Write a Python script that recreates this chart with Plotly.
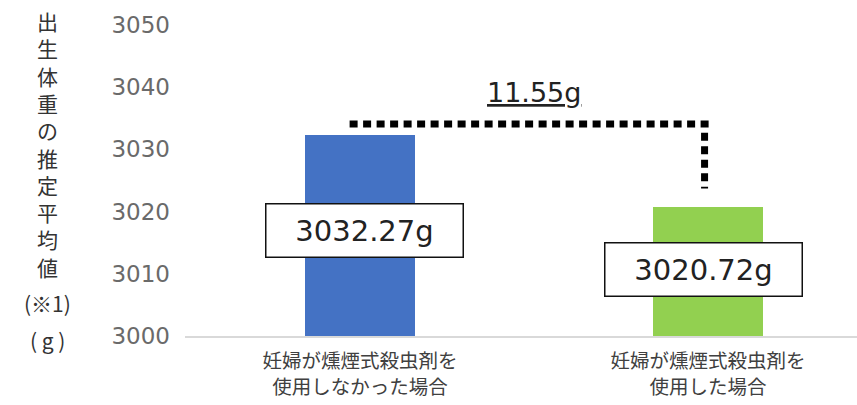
import plotly.graph_objects as go

categories = ["妊婦が燻煙式殺虫剤を<br>使用しなかった場合", "妊婦が燻煙式殺虫剤を<br>使用した場合"]
values = [3032.27, 3020.72]
colors = ["#4472C4", "#92D050"]
y_ticks = [3000, 3010, 3020, 3030, 3040, 3050]
y_title_chars = list("出生体重の推定平均値")

xpos = list(range(len(categories)))
fig = go.Figure()
fig.add_trace(go.Bar(
    x=xpos, y=values, width=0.316, marker=dict(color=colors, line=dict(width=0)),
    hoverinfo="skip", showlegend=False,
))

# value label boxes (offset below bar top)
label_offsets = [-15.3, -10.0]
for i, v in enumerate(values):
    fig.add_annotation(
        x=xpos[i] + 0.012 * (1 - 2 * i), y=v + label_offsets[i], xref="x", yref="y",
        text=f"{v:.2f}g", showarrow=False,
        font=dict(family="DejaVu Sans", size=29, color="#222222"),
        bgcolor="white", bordercolor="#111111", borderwidth=1.5, borderpad=0,
        width=196, height=52, align="center", valign="middle",
    )

# difference bracket
diff = values[0] - values[1]
bracket_y = values[0] + 1.8
x_left = xpos[0] - 0.03
x_right = xpos[1] - 0.01
dot = dict(color="black", width=7, dash="8px,5.5px")
fig.add_shape(type="line", xref="x", yref="y", x0=x_left, x1=x_right + 0.012,
              y0=bracket_y, y1=bracket_y, line=dot)
fig.add_shape(type="line", xref="x", yref="y", x0=x_right, x1=x_right,
              y0=bracket_y - 1.4, y1=values[1] + 3.0, line=dot)
fig.add_annotation(
    x=(x_left + x_right) / 2 + 0.02, y=bracket_y + 5.0, xref="x", yref="y",
    text=f"<u>{diff:.2f}g</u>", showarrow=False,
    font=dict(family="DejaVu Sans", size=27, color="#222222"),
)

# vertical y-axis title
fig.add_annotation(
    x=-0.2046, y=0.617, xref="paper", yref="paper",
    text="<br>".join(y_title_chars), showarrow=False,
    font=dict(family="Noto Sans CJK JP", size=21, color="#333333"),
    xanchor="center", yanchor="middle", align="center",
)
fig.add_annotation(
    x=-0.2046, y=0.105, xref="paper", yref="paper",
    text="(※1)", showarrow=False,
    font=dict(family="Noto Sans CJK JP", size=21, color="#333333"),
    xanchor="center", yanchor="middle",
)
fig.add_annotation(
    x=-0.2046, y=-0.012, xref="paper", yref="paper",
    text="( g )", showarrow=False,
    font=dict(family="Noto Sans CJK JP", size=21, color="#333333"),
    xanchor="center", yanchor="middle",
)

fig.update_layout(
    width=857, height=405,
    margin=dict(l=185, r=0, t=25, b=69, pad=0),
    plot_bgcolor="white", paper_bgcolor="white",
    bargap=0,
    xaxis=dict(
        range=[-0.503, 1.428], tickvals=xpos, ticktext=categories,
        showgrid=False, zeroline=False, showline=True, linecolor="#d9d9d9", linewidth=1.5,
        ticks="", ticklabelstandoff=7,
        tickfont=dict(family="Noto Sans CJK JP", size=19.5, color="#404040"),
        fixedrange=True,
    ),
    yaxis=dict(
        range=[3000, 3050], tickvals=y_ticks, ticktext=[str(t) for t in y_ticks],
        showgrid=False, zeroline=False, showline=False, ticks="",
        ticklabelstandoff=14,
        tickfont=dict(family="DejaVu Sans", size=23, color="#6a6a6a"),
        fixedrange=True,
    ),
)

fig.write_html("out.html")
